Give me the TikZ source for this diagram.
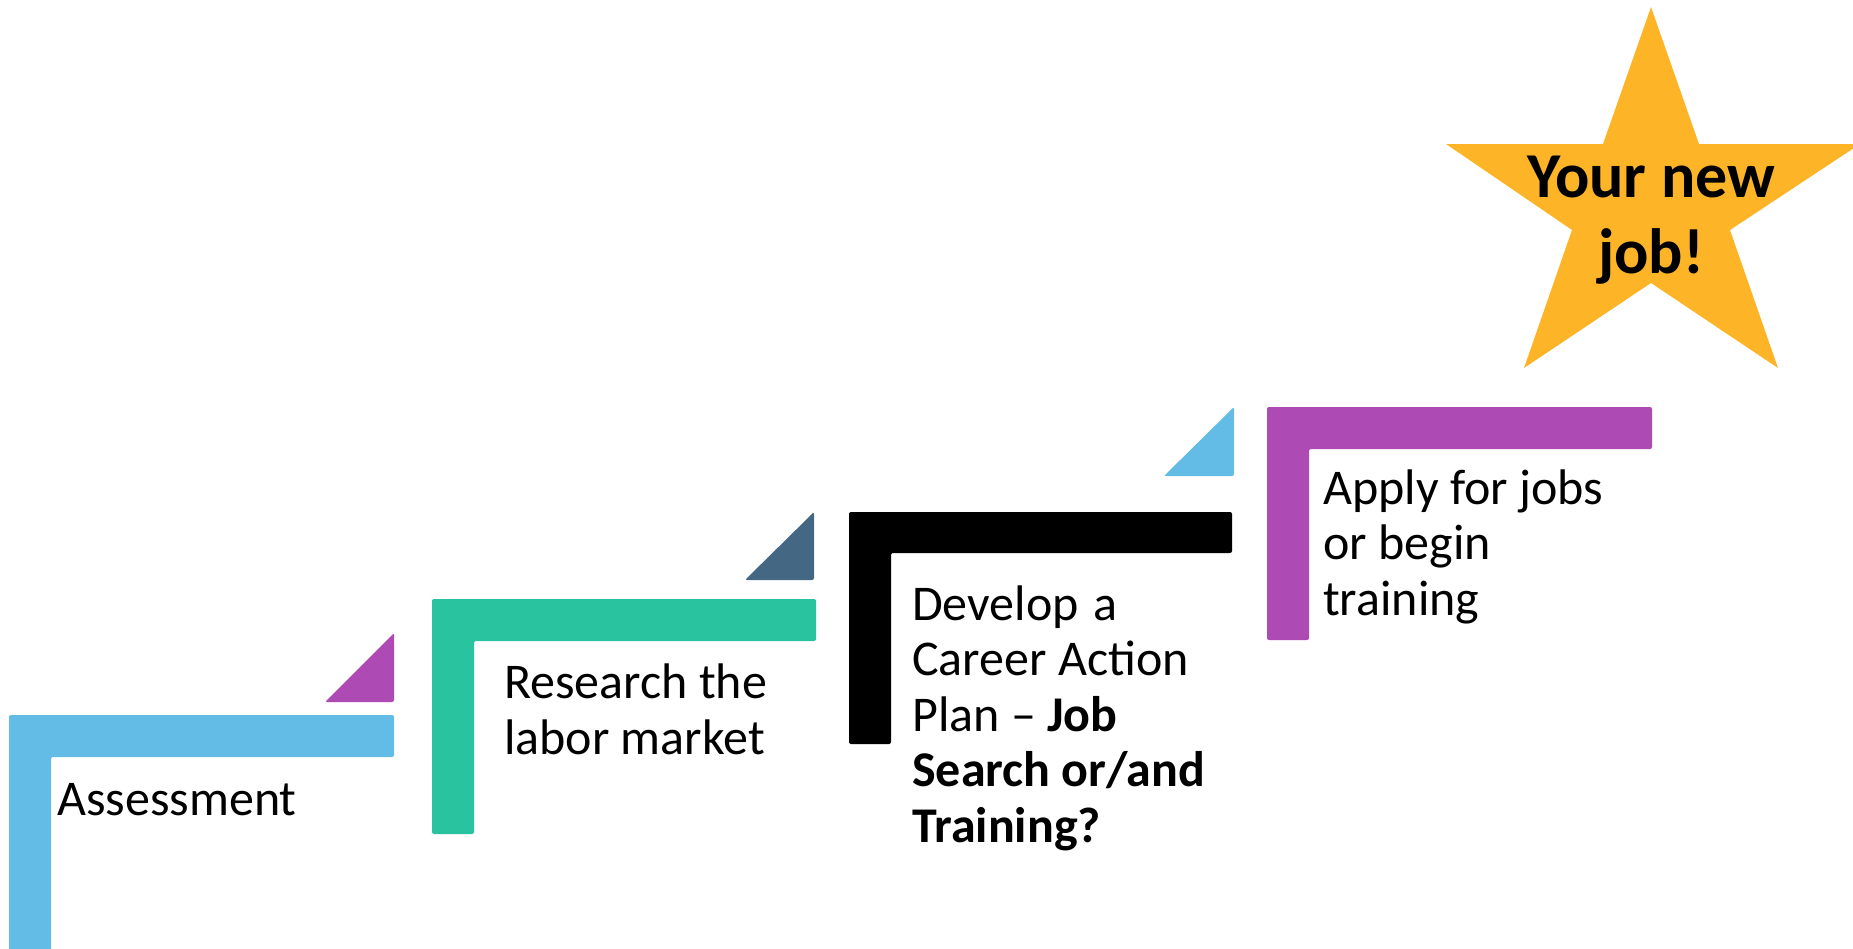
\documentclass[tikz,border=0pt]{standalone}
\usepackage{fontspec}
\setmainfont{Carlito}
\usetikzlibrary{positioning}
\definecolor{skyblue}{HTML}{63BCE5}
\definecolor{violet}{HTML}{AE4AB4}
\definecolor{teal}{HTML}{29C3A0}
\definecolor{slate}{HTML}{446783}
\definecolor{gold}{HTML}{FDB527}
\tikzset{
  stp_bar/.style = {rounded corners=2pt},
  stp_tri/.style = {rounded corners=2pt},
  stp_txt/.style = {anchor=base west, align=left, inner sep=0pt,
    font=\fontsize{50}{55.5}\selectfont},
  star_txt/.style = {anchor=base, align=center, inner sep=0pt,
    font=\fontsize{64}{76}\selectfont\bfseries}}

\begin{document}
\begin{tikzpicture}[x=1pt,y=-1pt]
\useasboundingbox (0,0) rectangle (1853,948);

% the four steps
\fill [stp_bar, skyblue] (9,960) -- (9,715) -- (394,715) -- (394,757) -- (51,757) -- (51,960) -- cycle;
\fill [stp_bar, teal] (432,834) -- (432,599) -- (816,599) -- (816,641) -- (474,641) -- (474,834) -- cycle;
\fill [stp_bar, black] (849,744) -- (849,512) -- (1232,512) -- (1232,553) -- (891,553) -- (891,744) -- cycle;
\fill [stp_bar, violet] (1267,640) -- (1267,407) -- (1652,407) -- (1652,449) -- (1309,449) -- (1309,640) -- cycle;

% small corner triangles
\fill [stp_tri, violet] (325,702) -- (394,702) -- (394,633) -- cycle;
\fill [stp_tri, slate] (745,580) -- (814,580) -- (814,512) -- cycle;
\fill [stp_tri, skyblue] (1164,476) -- (1234,476) -- (1234,407) -- cycle;

% the star
\fill [gold] (1651,7) -- (1699,144) -- (1860,144) -- (1730,230) -- (1778,368)
  -- (1651,283) -- (1524,368) -- (1572,230) -- (1446,144) -- (1603,144) -- cycle;

% labels (anchored at the baseline of their last line)
\node [stp_txt] (assess) at (57,815) {Assessment};
\node [stp_txt] (research) at (504,754) {Research the\\labor market};
\node [stp_txt] (plan) at (912,842) {Develop\hspace{4pt} a\\Career Action\\Plan -- \textbf{Job}\\\textbf{Search or/and}\\\textbf{Training?}};
\node [stp_txt] (apply) at (1323,615) {Apply for jobs\\or begin\\training};
\node [star_txt] (newjob) at (1651,273) {Your new\\job!};
\end{tikzpicture}
\end{document}
